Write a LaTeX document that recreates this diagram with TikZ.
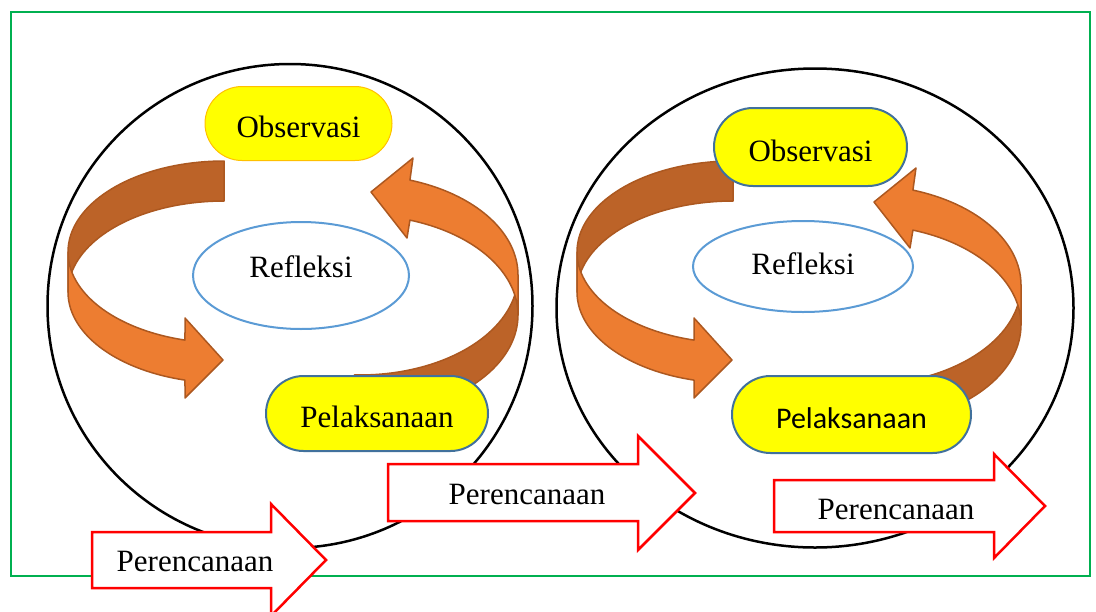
\documentclass[tikz,border=0pt]{standalone}
\usepackage{fontspec}
\setmainfont{Liberation Serif}
\newfontfamily\carlito{Carlito}
\usepackage{xcolor}
\usepackage{tikz}
\usetikzlibrary{shapes.geometric, shapes.misc}
\definecolor{framegreen}{RGB}{0, 176, 80}
\definecolor{stageyellow}{RGB}{255, 255, 0}
\definecolor{stageblue}{RGB}{65, 113, 156}
\definecolor{stagegold}{RGB}{255, 192, 0}
\definecolor{skyline}{RGB}{91, 155, 213}
\definecolor{ribbonorange}{RGB}{237, 125, 49}
\definecolor{ribbonbrown}{RGB}{188, 99, 40}
\definecolor{ribbonedge}{RGB}{172, 88, 32}
\definecolor{planred}{RGB}{255, 0, 0}

\begin{document}
\begin{tikzpicture}[
    x=1pt, y=-1pt,
    every node/.style={font=\fontsize{31}{36}\selectfont, inner sep=0pt},
    ring/.style={ellipse, draw=black, line width=2.5pt},
    stage/.style={
        rounded rectangle, fill=stageyellow,
        draw=#1, line width=2pt,
        text height=28pt, text depth=0pt
    },
    reflect/.style={ellipse, draw=skyline, fill=white, line width=2pt},
    plan/.style={draw=planred, fill=white, line width=2.5pt, line join=miter},
    ribbonlight/.style={fill=ribbonorange, draw=ribbonedge, line width=1.5pt, line join=round},
    ribbondark/.style={fill=ribbonbrown, draw=ribbonedge, line width=1.5pt, line join=round},
    % ribbon going down the left side, towards Pelaksanaan
    ribbonleft/.pic={
        \filldraw[ribbondark]
            plot[domain=-90:-180, samples=40] ({224+156*cos(\x)}, {252+91*sin(\x)})
            -- plot[domain=-180:-90, samples=40] ({224+156*cos(\x)}, {292+91*sin(\x)})
            -- cycle;
        \filldraw[ribbonlight]
            plot[domain=180:104.48, samples=40] ({224+156*cos(\x)}, {252+91*sin(\x)})
            -- (185,318) -- (223,360) -- (185,398)
            -- plot[domain=104.48:180, samples=40] ({224+156*cos(\x)}, {292+91*sin(\x)})
            -- cycle;
    },
    % ribbon going up the right side, towards Observasi
    ribbonright/.pic={
        \filldraw[ribbondark]
            plot[domain=0:92, samples=40] ({360+158*cos(\x)}, {275+100*sin(\x)})
            -- plot[domain=92:0, samples=40] ({360+158*cos(\x)}, {315+100*sin(\x)})
            -- cycle;
        \filldraw[ribbonlight]
            plot[domain=0:-71.58, samples=40] ({360+158*cos(\x)}, {275+100*sin(\x)})
            -- (413,158) -- (371,192) -- (407,238)
            -- plot[domain=-71.58:0, samples=40] ({360+158*cos(\x)}, {315+100*sin(\x)})
            -- cycle;
    }
]

\useasboundingbox (0,0) rectangle (1096,611);
\clip (0,0) rectangle (1096,611);

% ==============================================================================
% FRAME AND THE TWO CYCLES
% ==============================================================================
\draw[framegreen, line width=2.2pt] (11,12) rectangle (1090,576);

\node[ring, minimum width=485pt, minimum height=484pt] (cycleone) at (290,306) {};
\node[ring, minimum width=517pt, minimum height=479pt] (cycletwo) at (815,308) {};

% ==============================================================================
% CYCLE 1
% ==============================================================================
\pic at (0,0) {ribbonleft};
\pic at (0,0) {ribbonright};

\node[stage=stagegold, line width=1pt, minimum width=187pt, minimum height=74pt] (obsone) at (298.5,123.5) {Observasi};
\node[reflect, minimum width=216pt, minimum height=107pt, text height=22pt, text depth=18pt] (refone) at (301,275.5) {Refleksi};
\node[stage=stageblue, minimum width=222pt, minimum height=75pt] (pelone) at (377,413.5) {Pelaksanaan};

% ==============================================================================
% CYCLE 2
% ==============================================================================
\pic at (509,0) {ribbonleft};
\pic at (503,10) {ribbonright};

\node[stage=stageblue, minimum width=193pt, minimum height=78pt] (obstwo) at (810.5,147) {Observasi};
\node[reflect, minimum width=220pt, minimum height=91pt, text height=24pt, text depth=9pt] (reftwo) at (803,266.5) {Refleksi};
\node[stage=stageblue, minimum width=239pt, minimum height=77pt] (peltwo) at (851.5,414.5) {\carlito\fontsize{30}{36}\selectfont Pelaksanaan};

% ==============================================================================
% PERENCANAAN BLOCK ARROWS
% ==============================================================================
\draw[plan] (92,532) -- (271,532) -- (271,504) -- (326,560) -- (271,616) -- (271,588) -- (92,588) -- cycle;
\node (planone) at (195,561) {Perencanaan};

\draw[plan] (388,464) -- (638,464) -- (638,436) -- (695,493) -- (638,550) -- (638,521) -- (388,521) -- cycle;
\node (plantwo) at (527,494) {Perencanaan};

\draw[plan] (774,480) -- (994,480) -- (994,454) -- (1045,506) -- (994,558) -- (994,532) -- (774,532) -- cycle;
\node (planthree) at (896,509) {Perencanaan};

\end{tikzpicture}
\end{document}
